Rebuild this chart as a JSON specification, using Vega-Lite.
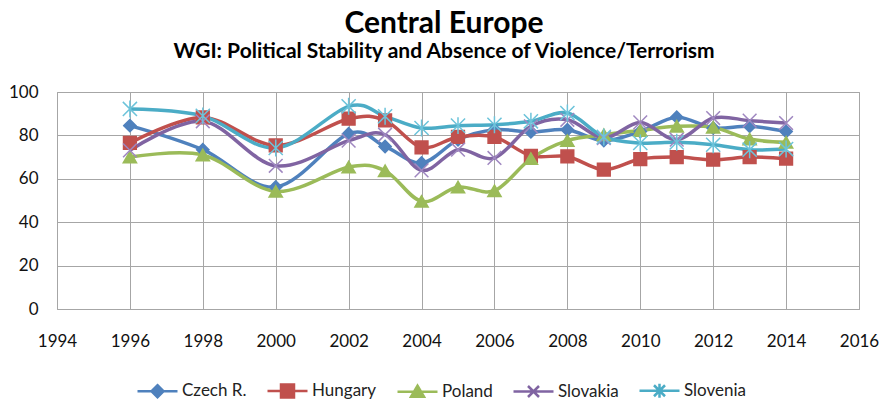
{
  "$schema": "https://vega.github.io/schema/vega-lite/v6.json",
  "width": 802,
  "height": 217,
  "autosize": {"type": "none"},
  "padding": {"left": 57, "top": 92, "right": 24, "bottom": 93},
  "background": "white",
  "title": {
    "text": "Central Europe",
    "subtitle": "WGI: Political Stability and Absence of Violence/Terrorism",
    "font": "Lato", "fontSize": 30, "fontWeight": "bold", "color": "black",
    "subtitleFont": "Lato", "subtitleFontSize": 21, "subtitleFontWeight": "bold", "subtitleColor": "black",
    "anchor": "middle", "dx": -14, "offset": 21, "subtitlePadding": 2
  },
  "data": {"values": [
    {"country": "Czech R.", "year": 1996, "value": 84.5},
    {"country": "Czech R.", "year": 1998, "value": 73.4},
    {"country": "Czech R.", "year": 2000, "value": 56.2},
    {"country": "Czech R.", "year": 2002, "value": 80.8},
    {"country": "Czech R.", "year": 2003, "value": 74.9},
    {"country": "Czech R.", "year": 2004, "value": 67.3},
    {"country": "Czech R.", "year": 2005, "value": 78.0},
    {"country": "Czech R.", "year": 2006, "value": 82.6},
    {"country": "Czech R.", "year": 2007, "value": 81.6},
    {"country": "Czech R.", "year": 2008, "value": 82.6},
    {"country": "Czech R.", "year": 2009, "value": 77.6},
    {"country": "Czech R.", "year": 2010, "value": 81.8},
    {"country": "Czech R.", "year": 2011, "value": 88.4},
    {"country": "Czech R.", "year": 2012, "value": 83.4},
    {"country": "Czech R.", "year": 2013, "value": 84.2},
    {"country": "Czech R.", "year": 2014, "value": 81.8},
    {"country": "Hungary", "year": 1996, "value": 76.5},
    {"country": "Hungary", "year": 1998, "value": 88.3},
    {"country": "Hungary", "year": 2000, "value": 75.4},
    {"country": "Hungary", "year": 2002, "value": 87.7},
    {"country": "Hungary", "year": 2003, "value": 86.9},
    {"country": "Hungary", "year": 2004, "value": 74.5},
    {"country": "Hungary", "year": 2005, "value": 79.3},
    {"country": "Hungary", "year": 2006, "value": 79.3},
    {"country": "Hungary", "year": 2007, "value": 70.6},
    {"country": "Hungary", "year": 2008, "value": 70.3},
    {"country": "Hungary", "year": 2009, "value": 64.2},
    {"country": "Hungary", "year": 2010, "value": 69.1},
    {"country": "Hungary", "year": 2011, "value": 70.0},
    {"country": "Hungary", "year": 2012, "value": 68.8},
    {"country": "Hungary", "year": 2013, "value": 70.0},
    {"country": "Hungary", "year": 2014, "value": 69.3},
    {"country": "Poland", "year": 1996, "value": 70.0},
    {"country": "Poland", "year": 1998, "value": 71.0},
    {"country": "Poland", "year": 2000, "value": 54.2},
    {"country": "Poland", "year": 2002, "value": 65.4},
    {"country": "Poland", "year": 2003, "value": 63.7},
    {"country": "Poland", "year": 2004, "value": 49.6},
    {"country": "Poland", "year": 2005, "value": 56.2},
    {"country": "Poland", "year": 2006, "value": 54.5},
    {"country": "Poland", "year": 2007, "value": 69.3},
    {"country": "Poland", "year": 2008, "value": 77.6},
    {"country": "Poland", "year": 2009, "value": 80.3},
    {"country": "Poland", "year": 2010, "value": 82.3},
    {"country": "Poland", "year": 2011, "value": 84.2},
    {"country": "Poland", "year": 2012, "value": 83.7},
    {"country": "Poland", "year": 2013, "value": 78.3},
    {"country": "Poland", "year": 2014, "value": 76.8},
    {"country": "Slovakia", "year": 1996, "value": 73.1},
    {"country": "Slovakia", "year": 1998, "value": 86.5},
    {"country": "Slovakia", "year": 2000, "value": 66.0},
    {"country": "Slovakia", "year": 2002, "value": 77.6},
    {"country": "Slovakia", "year": 2003, "value": 80.3},
    {"country": "Slovakia", "year": 2004, "value": 63.9},
    {"country": "Slovakia", "year": 2005, "value": 73.4},
    {"country": "Slovakia", "year": 2006, "value": 69.6},
    {"country": "Slovakia", "year": 2007, "value": 84.2},
    {"country": "Slovakia", "year": 2008, "value": 87.2},
    {"country": "Slovakia", "year": 2009, "value": 78.8},
    {"country": "Slovakia", "year": 2010, "value": 86.0},
    {"country": "Slovakia", "year": 2011, "value": 78.0},
    {"country": "Slovakia", "year": 2012, "value": 88.0},
    {"country": "Slovakia", "year": 2013, "value": 86.8},
    {"country": "Slovakia", "year": 2014, "value": 85.7},
    {"country": "Slovenia", "year": 1996, "value": 92.2},
    {"country": "Slovenia", "year": 1998, "value": 89.0},
    {"country": "Slovenia", "year": 2000, "value": 74.2},
    {"country": "Slovenia", "year": 2002, "value": 93.4},
    {"country": "Slovenia", "year": 2003, "value": 88.8},
    {"country": "Slovenia", "year": 2004, "value": 83.4},
    {"country": "Slovenia", "year": 2005, "value": 84.5},
    {"country": "Slovenia", "year": 2006, "value": 84.9},
    {"country": "Slovenia", "year": 2007, "value": 86.5},
    {"country": "Slovenia", "year": 2008, "value": 90.3},
    {"country": "Slovenia", "year": 2009, "value": 79.3},
    {"country": "Slovenia", "year": 2010, "value": 76.5},
    {"country": "Slovenia", "year": 2011, "value": 76.8},
    {"country": "Slovenia", "year": 2012, "value": 75.7},
    {"country": "Slovenia", "year": 2013, "value": 73.4},
    {"country": "Slovenia", "year": 2014, "value": 73.7}
  ]},
  "encoding": {
    "x": {
      "field": "year", "type": "quantitative",
      "scale": {"domain": [1994, 2016], "nice": false, "zero": false},
      "axis": {"values": [1994, 1996, 1998, 2000, 2002, 2004, 2006, 2008, 2010, 2012, 2014, 2016], "format": "d", "title": null, "labelPadding": 24, "labelFlush": false}
    },
    "y": {
      "field": "value", "type": "quantitative",
      "scale": {"domain": [0, 100], "nice": false},
      "axis": {"values": [0, 20, 40, 60, 80, 100], "title": null, "labelPadding": 19}
    }
  },
  "layer": [
    {
      "mark": {"type": "line", "interpolate": "cardinal", "strokeWidth": 3.5},
      "encoding": {
        "color": {
          "field": "country", "type": "nominal",
          "scale": {"domain": ["Czech R.", "Hungary", "Poland", "Slovakia", "Slovenia"], "range": ["#4F81BD", "#C0504D", "#9BBB59", "#8064A2", "#4BACC6"]},
          "legend": null
        }
      }
    },
    {
      "mark": {"type": "point", "filled": true, "opacity": 1, "strokeWidth": 1.5},
      "encoding": {
        "color": {
          "field": "country", "type": "nominal",
          "scale": {"domain": ["Czech R.", "Hungary", "Poland", "Slovakia", "Slovenia"], "range": ["#4F81BD", "#C0504D", "#9BBB59", "#8064A2", "#4BACC6"]},
          "legend": null
        },
        "shape": {
          "field": "country", "type": "nominal",
          "scale": {"domain": ["Czech R.", "Hungary", "Poland", "Slovakia", "Slovenia"], "range": ["diamond", "square", "triangle-up", "M-1,-1L1,1M-1,1L1,-1", "M-1,-1L1,1M-1,1L1,-1M0,-1.2L0,1.2"]},
          "legend": null
        },
        "size": {
          "field": "country", "type": "nominal",
          "scale": {"domain": ["Czech R.", "Hungary", "Poland", "Slovakia", "Slovenia"], "range": [150, 200, 160, 140, 180]},
          "legend": null
        },
        "stroke": {
          "field": "country", "type": "nominal",
          "scale": {"domain": ["Czech R.", "Hungary", "Poland", "Slovakia", "Slovenia"], "range": ["#4F81BD", "#C0504D", "#9BBB59", "#9F87C0", "#6CC3DA"]},
          "legend": null
        }
      }
    },
    {
      "transform": [{"filter": "false"}],
      "mark": {"type": "point", "filled": true, "opacity": 1},
      "encoding": {
        "color": {
          "field": "country", "type": "nominal",
          "scale": {"domain": ["Czech R.", "Hungary", "Poland", "Slovakia", "Slovenia"], "range": ["#4F81BD", "#C0504D", "#9BBB59", "#8064A2", "#4BACC6"]},
          "legend": {"title": null}
        },
        "stroke": {
          "field": "country", "type": "nominal",
          "scale": {"domain": ["Czech R.", "Hungary", "Poland", "Slovakia", "Slovenia"], "range": ["#4F81BD", "#C0504D", "#9BBB59", "#8064A2", "#4BACC6"]},
          "legend": {"title": null}
        },
        "shape": {
          "field": "country", "type": "nominal",
          "scale": {"domain": ["Czech R.", "Hungary", "Poland", "Slovakia", "Slovenia"], "range": [
            "M-4,0L4,0M0,-1.2L1.2,0L0,1.2L-1.2,0Z",
            "M-4,0L4,0M-1.3,-1.3L1.3,-1.3L1.3,1.3L-1.3,1.3Z",
            "M-4,0L4,0M0,-1.2L1.3,1L-1.3,1Z",
            "M-4,0L4,0M-1.1,-1.1L1.1,1.1M-1.1,1.1L1.1,-1.1",
            "M-4,0L4,0M-1.1,-1.1L1.1,1.1M-1.1,1.1L1.1,-1.1M0,-1.4L0,1.4"
          ]},
          "legend": {"title": null}
        }
      }
    }
  ],
  "resolve": {"scale": {"color": "independent", "shape": "independent", "stroke": "independent", "size": "independent"}},
  "config": {
    "view": {"stroke": "#a0a0a0", "strokeWidth": 1},
    "axis": {
      "grid": true, "gridColor": "#a6a6a6", "gridWidth": 1, "gridOpacity": 1,
      "domain": false, "ticks": false,
      "labelFont": "Lato", "labelFontSize": 17, "labelColor": "#111111"
    },
    "legend": {
      "orient": "none", "legendX": 92, "legendY": 290, "direction": "horizontal",
      "labelFont": "Lato", "labelFontSize": 17, "labelColor": "#222222",
      "symbolSize": 100, "symbolStrokeWidth": 2.5, "labelOffset": 16, "columnPadding": 15
    }
  }
}
